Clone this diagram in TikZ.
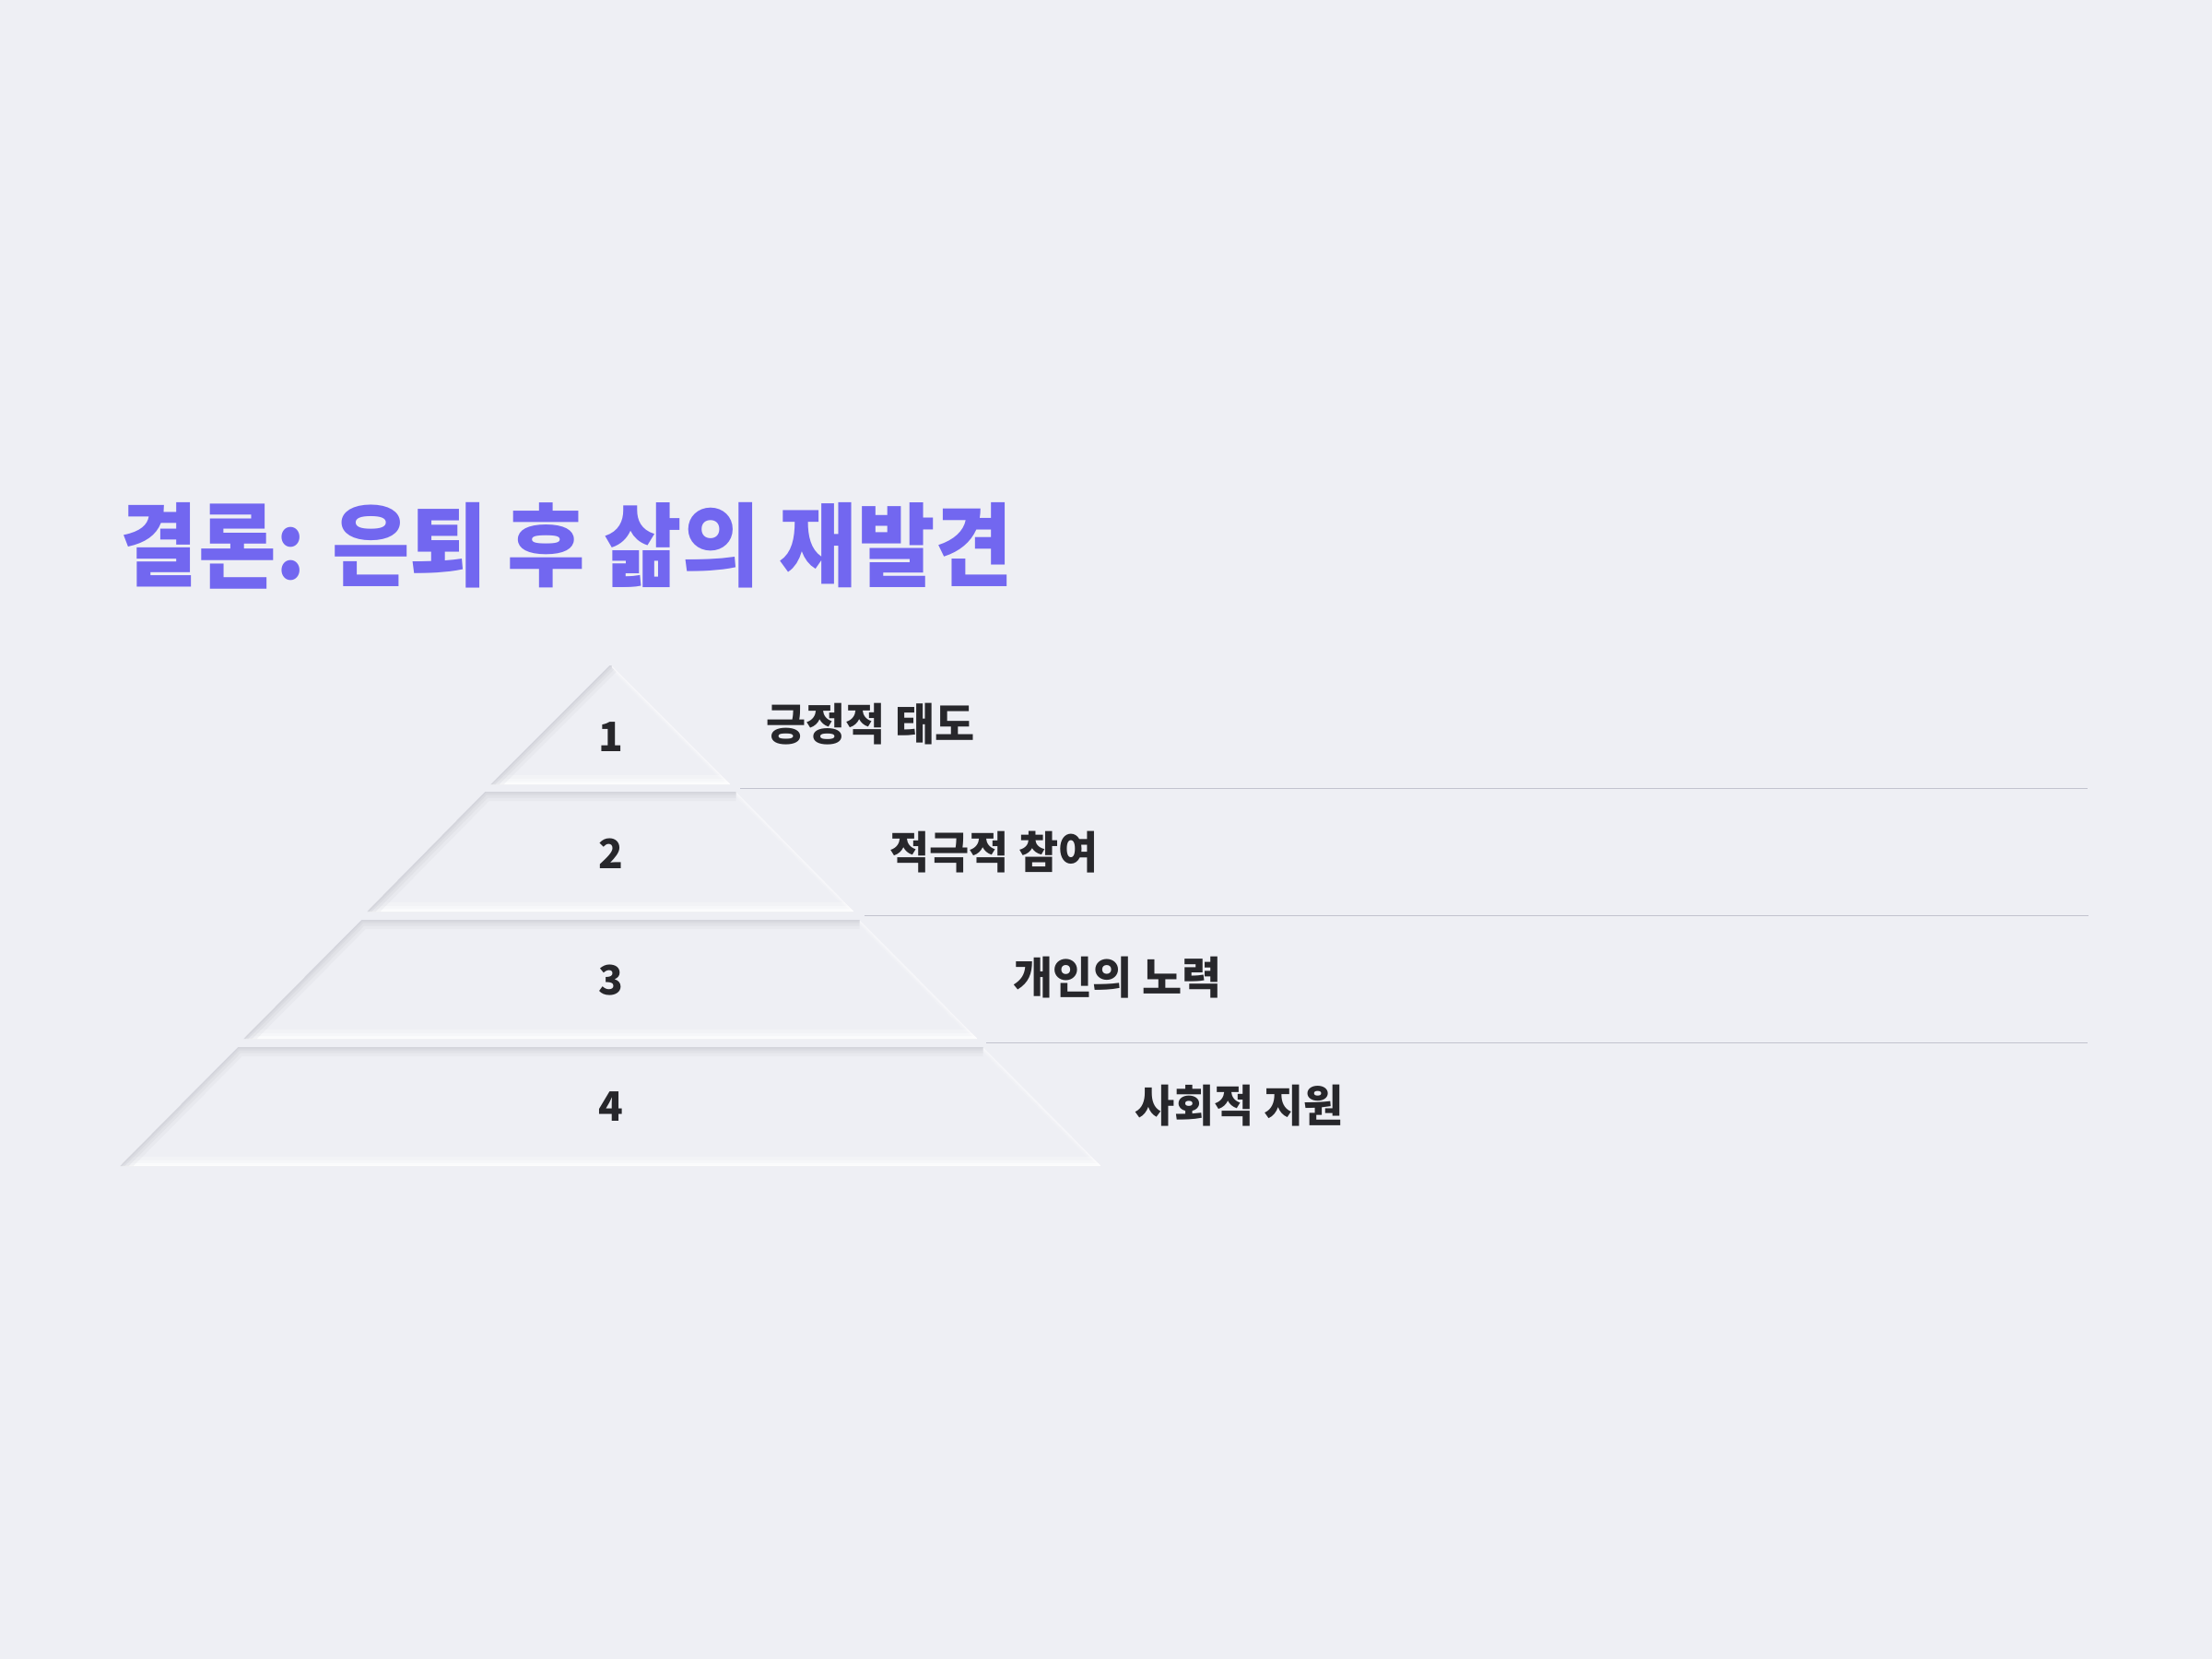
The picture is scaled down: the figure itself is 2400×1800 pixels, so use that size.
\documentclass[tikz,border=0pt]{standalone}
\usepackage{fontspec}
\usepackage{graphicx}
\newfontfamily\kr{Noto Sans CJK KR}
\definecolor{bg}{HTML}{EEEFF4}
\definecolor{ttl}{HTML}{7267F0}
\definecolor{ink}{HTML}{27272B}
\definecolor{sepc}{HTML}{C2C3CE}
\definecolor{shd}{HTML}{CDCED6}
\newcommand\sqz[2]{\scalebox{#1}[1]{#2}}
\newcommand\pyrlevel[5]{% name, ytop, hwtop, ybot, hwbot
  \coordinate (#1tl) at (662.5-#3,#2);
  \coordinate (#1tr) at (662.5+#3,#2);
  \coordinate (#1br) at (662.5+#5,#4);
  \coordinate (#1bl) at (662.5-#5,#4);
  \begin{scope}
    \clip (#1tl)--(#1tr)--(#1br)--(#1bl)--cycle;
    \fill[bg] (#1tl)--(#1tr)--(#1br)--(#1bl)--cycle;
    \foreach \w/\o in {8/0.15,5/0.2,3/0.25}
      \draw[white, line width=\w*0.2845pt, opacity=\o] (#1tr)--(#1br);
    \foreach \w/\o in {20/0.25,13/0.35,7/0.5,3/0.6}
      \draw[white, line width=\w*0.2845pt, opacity=\o] (#1br)--(#1bl);
    \foreach \w/\o in {20/0.18,13/0.25,7/0.35,3/0.45}
      \draw[shd, line width=\w*0.2845pt, opacity=\o, line join=miter] (#1bl)--(#1tl)--(#1tr);
  \end{scope}
}
\tikzset{
  titletext/.style={anchor=west, inner sep=0pt, text=ttl, font=\kr\bfseries\fontsize{28}{32}\selectfont},
  numtext/.style={inner sep=0pt, text=ink, font=\kr\bfseries\fontsize{12.5}{14}\selectfont},
  lbltext/.style={anchor=west, inner sep=0pt, text=ink, font=\kr\bfseries\fontsize{13.6}{16}\selectfont},
  sepline/.style={draw=sepc, line width=0.5pt},
}
\begin{document}
\begin{tikzpicture}[x=0.01cm,y=-0.01cm]
\fill[bg] (0,0) rectangle (2400,1800);
\useasboundingbox (0,0) rectangle (2400,1800);

\node[titletext] (title) at (130,592) {\sqz{0.933}{결론: 은퇴 후 삶의 재발견}};

\pyrlevel{a}{722}{1}{851}{130}
\pyrlevel{b}{859}{136}{989}{264}
\pyrlevel{c}{998}{270}{1127}{398}
\pyrlevel{d}{1136}{404}{1265}{532}

\node[numtext] (n1) at (662.5,800) {1};
\node[numtext] (n2) at (662.5,926) {2};
\node[numtext] (n3) at (662.5,1064) {3};
\node[numtext] (n4) at (662.5,1201) {4};

\node[lbltext] (l1) at (831,786) {\sqz{0.98}{긍정적 태도}};
\node[lbltext] (l2) at (965,925) {\sqz{0.98}{적극적 참여}};
\node[lbltext] (l3) at (1099,1061) {\sqz{0.98}{개인의 노력}};
\node[lbltext] (l4) at (1231,1200) {\sqz{0.98}{사회적 지원}};

\coordinate (s1a) at (803,855.5);  \coordinate (s1b) at (2265,855.5);
\coordinate (s2a) at (938,993.5);  \coordinate (s2b) at (2266,993.5);
\coordinate (s3a) at (1070,1131.5); \coordinate (s3b) at (2265,1131.5);
\draw[sepline] (s1a) -- (s1b);
\draw[sepline] (s2a) -- (s2b);
\draw[sepline] (s3a) -- (s3b);
\end{tikzpicture}
\end{document}
